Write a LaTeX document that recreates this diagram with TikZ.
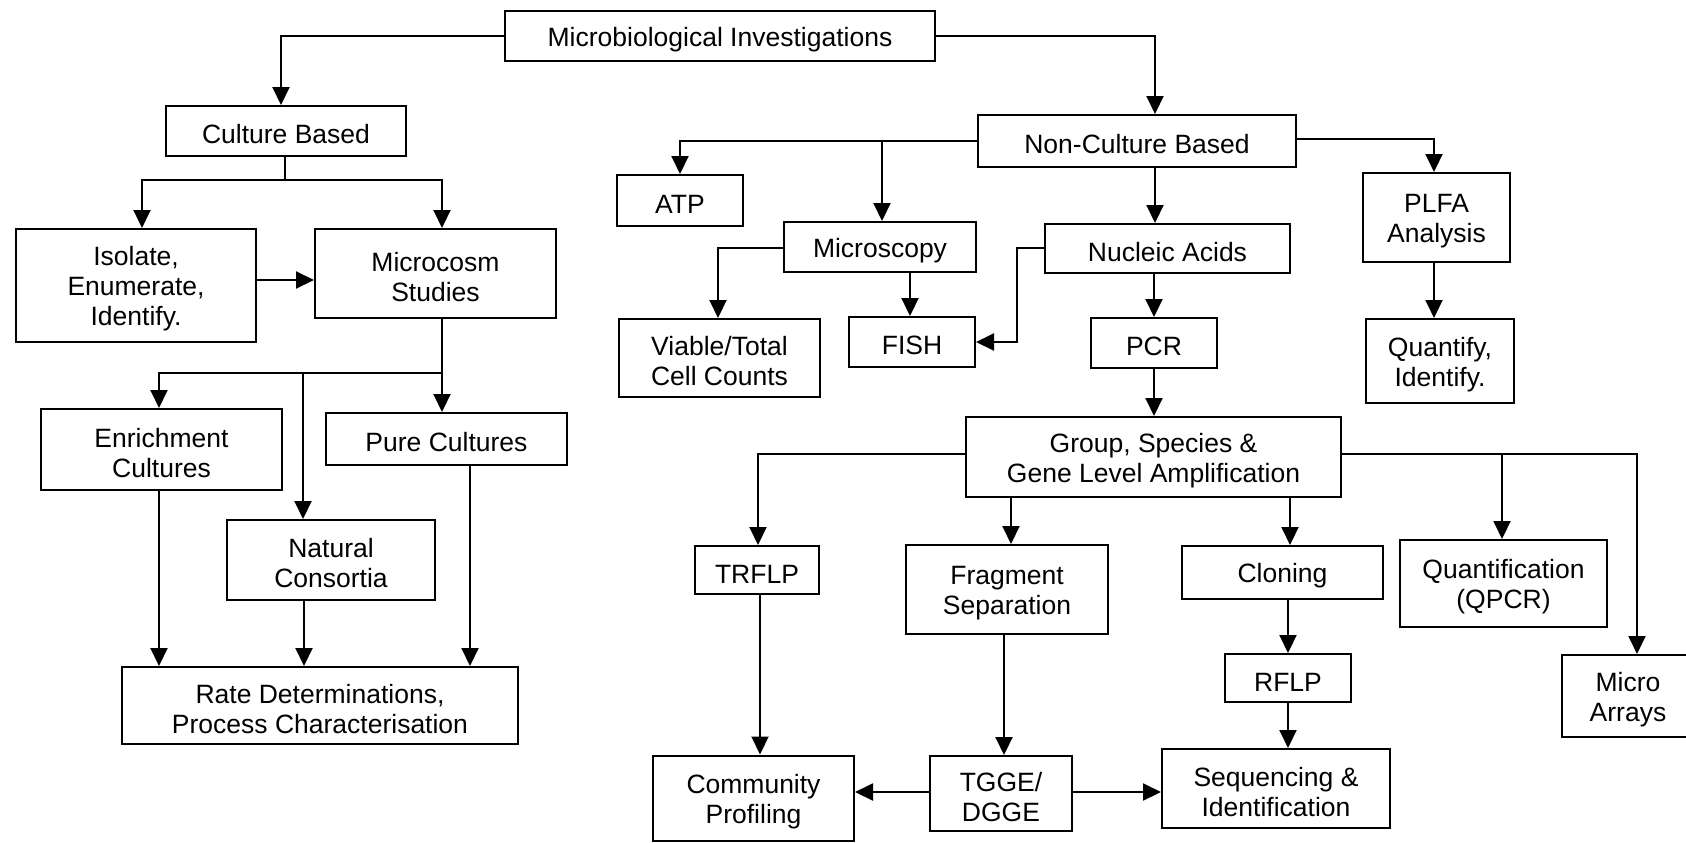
\documentclass[tikz,border=0pt]{standalone}
\usepackage{fontspec}
\setmainfont{Liberation Sans}
\usetikzlibrary{arrows.meta}
\newcommand\tstrut{\rule{0pt}{13pt}}
\tikzset{
  bx/.style 2 args={draw, line width=1pt, align=center, inner sep=0pt,
    minimum width=#1*0.5pt, minimum height=#2*0.5pt,
    font=\fontsize{13.25}{15}\selectfont},
  conn/.style={line width=1pt},
  arr/.style={conn, -{Triangle[length=9pt,width=8.5pt]}}
}
\begin{document}
\begin{tikzpicture}[x=0.5pt,y=-0.5pt]
\useasboundingbox (0,0) rectangle (1686,842);
\clip (0,0) rectangle (1686,842);
% left
\node[bx={430}{50}] (mi) at (720,36) {\tstrut Microbiological Investigations};
\node[bx={240}{50}] (cb) at (286,131) {\tstrut Culture Based};
\node[bx={240}{113}] (iso) at (136,285.5) {\tstrut Isolate,\\Enumerate,\\Identify.};
\node[bx={241}{89}] (mc) at (435.5,273.5) {\tstrut Microcosm\\Studies};
\node[bx={241}{81}] (enr) at (161.5,449.5) {\tstrut Enrichment\\Cultures};
\node[bx={241}{52}] (pure) at (446.5,439) {\tstrut Pure Cultures};
\node[bx={208}{80}] (nat) at (331,560) {\tstrut Natural\\Consortia};
\node[bx={396}{77}] (rate) at (320,705.5) {\tstrut Rate Determinations,\\Process Characterisation};
% right
\node[bx={318}{52}] (nc) at (1137,141) {\tstrut Non-Culture Based};
\node[bx={126}{51}] (atp) at (680,200.5) {\tstrut ATP};
\node[bx={192}{50}] (mic) at (880,247) {\tstrut Microscopy};
\node[bx={245}{49}] (nuc) at (1167.5,248.5) {\tstrut Nucleic Acids};
\node[bx={147}{89}] (plfa) at (1436.5,217.5) {\tstrut PLFA\\Analysis};
\node[bx={148}{84}] (quant) at (1440,361) {\tstrut Quantify,\\Identify.};
\node[bx={201}{78}] (via) at (719.5,358) {\tstrut Viable/Total\\Cell Counts};
\node[bx={126}{50}] (fish) at (912,342) {\tstrut FISH};
\node[bx={126}{50}] (pcr) at (1154,343) {\tstrut PCR};
\node[bx={375}{80}] (grp) at (1153.5,457) {\tstrut Group, Species \&\\Gene Level Amplification};
\node[bx={124}{48}] (trf) at (757,570) {\tstrut TRFLP};
\node[bx={202}{89}] (frag) at (1007,589.5) {\tstrut Fragment\\Separation};
\node[bx={201}{53}] (clon) at (1282.5,572.5) {\tstrut Cloning};
\node[bx={207}{87}] (qpcr) at (1503.5,583.5) {\tstrut Quantification\\(QPCR)};
\node[bx={132}{82}] (ma) at (1628,696) {\tstrut Micro\\Arrays};
\node[bx={126}{48}] (rflp) at (1288,678) {\tstrut RFLP};
\node[bx={228}{79}] (seq) at (1276,788.5) {\tstrut Sequencing \&\\Identification};
\node[bx={201}{85}] (com) at (753.5,798) {\tstrut Community\\Profiling};
\node[bx={142}{75}] (tgge) at (1001,793.5) {\tstrut TGGE/\\DGGE};
% helper coordinates
\coordinate (xcb) at (281,0);
\coordinate (j1) at (285,180);
\coordinate (xiso) at (142,0);
\coordinate (xmc) at (442,0);
\coordinate (yiso) at (0,280);
\coordinate (j2) at (442,373);
\coordinate (xenr) at (159,0);
\coordinate (xnat) at (303,0);
\coordinate (xnatb) at (304,0);
\coordinate (xpure) at (470,0);
\coordinate (xnc) at (1155,0);
\coordinate (ync) at (0,141);
\coordinate (yncr) at (0,139);
\coordinate (xatp) at (680,0);
\coordinate (xmic) at (882,0);
\coordinate (xnuc) at (1154,0);
\coordinate (xplfa) at (1434,0);
\coordinate (ymic) at (0,248);
\coordinate (xvia) at (718,0);
\coordinate (xfish) at (910,0);
\coordinate (j3) at (1017,342);
\coordinate (ygrp) at (0,454);
\coordinate (xtr) at (758,0);
\coordinate (xtrb) at (760,0);
\coordinate (xfr) at (1011,0);
\coordinate (xfrb) at (1004,0);
\coordinate (xcl) at (1290,0);
\coordinate (xclb) at (1288,0);
\coordinate (xqp) at (1502,0);
\coordinate (xma) at (1637,0);
\coordinate (ytg) at (0,792);
% left connectors
\draw[arr] (mi.west) -| (cb.north -| xcb);
\draw[arr] (mi.east) -| (nc.north -| xnc);
\draw[conn] (cb.south -| j1) -- (j1);
\draw[arr] (j1) -| (iso.north -| xiso);
\draw[arr] (j1) -| (mc.north -| xmc);
\draw[arr] (iso.east |- yiso) -- (mc.west |- yiso);
\draw[arr] (mc.south -| xmc) -- (pure.north -| xmc);
\draw[arr] (j2) -| (enr.north -| xenr);
\draw[arr] (j2 -| xnat) -- (nat.north -| xnat);
\draw[arr] (enr.south -| xenr) -- (rate.north -| xenr);
\draw[arr] (nat.south -| xnatb) -- (rate.north -| xnatb);
\draw[arr] (pure.south -| xpure) -- (rate.north -| xpure);
% right connectors
\draw[arr] (nc.west |- ync) -| (atp.north -| xatp);
\draw[arr] (xmic |- ync) -- (mic.north -| xmic);
\draw[arr] (nc.south -| xnc) -- (nuc.north -| xnc);
\draw[arr] (nc.east |- yncr) -| (plfa.north -| xplfa);
\draw[arr] (plfa.south -| xplfa) -- (quant.north -| xplfa);
\draw[arr] (mic.west |- ymic) -| (via.north -| xvia);
\draw[arr] (mic.south -| xfish) -- (fish.north -| xfish);
\draw[arr] (nuc.west |- ymic) -| (j3) -- (fish.east |- j3);
\draw[arr] (nuc.south -| xnuc) -- (pcr.north -| xnuc);
\draw[arr] (pcr.south -| xnuc) -- (grp.north -| xnuc);
\draw[arr] (grp.west |- ygrp) -| (trf.north -| xtr);
\draw[arr] (grp.south -| xfr) -- (frag.north -| xfr);
\draw[arr] (grp.south -| xcl) -- (clon.north -| xcl);
\draw[arr] (grp.east |- ygrp) -| (ma.north -| xma);
\draw[arr] (xqp |- ygrp) -- (qpcr.north -| xqp);
\draw[arr] (clon.south -| xclb) -- (rflp.north -| xclb);
\draw[arr] (rflp.south -| xclb) -- (seq.north -| xclb);
\draw[arr] (trf.south -| xtrb) -- (com.north -| xtrb);
\draw[arr] (frag.south -| xfrb) -- (tgge.north -| xfrb);
\draw[arr] (tgge.west |- ytg) -- (com.east |- ytg);
\draw[arr] (tgge.east |- ytg) -- (seq.west |- ytg);
\end{tikzpicture}
\end{document}
